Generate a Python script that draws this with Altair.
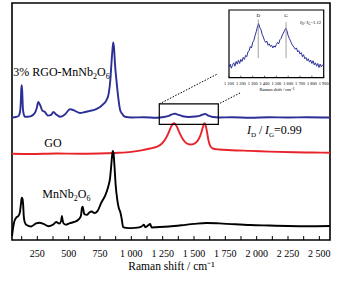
import altair as alt
import pandas as pd

# ---------------- data ----------------
# main plot: y in arbitrary units, 0 = bottom of frame, 100 = top of frame
blue_x = [48, 80, 100, 112, 118, 122, 126, 130, 135, 142, 150, 170, 200, 230, 245, 258, 272, 290, 311, 335, 360, 378,
          400, 431, 470, 511, 550, 590, 630, 670, 710, 750, 780, 803, 820, 832, 842, 850, 856, 862, 870, 883, 897, 910,
          930, 950, 1000, 1100, 1200, 1260, 1300, 1335, 1350, 1370, 1410, 1460, 1510, 1550, 1575, 1590, 1610, 1650,
          1700, 1800, 1950, 2100, 2250, 2400, 2585]
blue_y = [51.7, 51.9, 52.3, 54.0, 58.0, 63.5, 65.3, 62.0, 55.5, 53.0, 52.0, 52.0, 52.3, 53.6, 55.6, 58.2, 57.0, 54.6,
          54.0, 52.5, 52.8, 54.0, 53.0, 52.0, 53.0, 55.2, 54.5, 53.6, 54.0, 54.5, 55.0, 56.1, 57.5, 59.1, 62.0, 67.2,
          75.0, 80.5, 83.4, 81.0, 74.0, 66.5, 59.5, 55.0, 53.0, 52.0, 51.7, 51.8, 51.6, 51.9, 52.4, 53.2, 53.3, 52.9,
          52.2, 51.9, 52.1, 52.5, 53.0, 53.2, 52.6, 51.9, 51.7, 51.8, 51.6, 51.8, 51.7, 51.8, 51.7]

red_x = [48, 200, 400, 600, 800, 900, 1000, 1080, 1150, 1200, 1240, 1270, 1295, 1315, 1328, 1338, 1350, 1365, 1385,
         1410, 1440, 1470, 1500, 1525, 1545, 1560, 1572, 1582, 1592, 1603, 1615, 1630, 1650, 1700, 1800, 1950, 2100,
         2300, 2450, 2585]
red_y = [36.4, 36.3, 36.5, 36.4, 36.6, 36.8, 37.2, 37.8, 38.6, 39.3, 40.5, 42.4, 45.0, 47.5, 48.8, 49.3, 49.0, 47.6,
         45.2, 42.6, 40.8, 40.3, 40.6, 41.6, 43.4, 45.6, 47.8, 49.3, 48.6, 45.8, 42.2, 39.6, 38.6, 38.2, 37.9, 37.6,
         37.3, 37.0, 36.9, 36.8]

black_x = [48, 55, 65, 80, 100, 112, 120, 126, 132, 137, 142, 150, 165, 200, 240, 270, 300, 340, 380, 400, 425, 440,
           446, 451, 458, 475, 510, 545, 580, 598, 606, 612, 618, 625, 645, 665, 684, 705, 730, 760, 790, 815, 830,
           840, 847, 852, 858, 865, 875, 888, 900, 912, 922, 935, 960, 1000, 1050, 1085, 1100, 1112, 1135, 1150, 1162,
           1200, 1300, 1400, 1500, 1600, 1700, 1800, 1950, 2100, 2250, 2400, 2585]
black_y = [1.6, 4.5, 7.5, 9.3, 10.2, 12.0, 15.5, 17.8, 17.3, 14.8, 10.0, 7.5, 6.3, 5.7, 7.0, 7.3, 6.8, 5.8, 6.6, 7.6,
           6.9, 8.0, 10.1, 8.6, 7.2, 6.5, 7.1, 7.6, 8.7, 10.2, 13.5, 14.1, 12.6, 10.9, 10.6, 11.6, 12.0, 11.4, 12.2, 15.7,
           18.6, 22.4, 26.0, 31.5, 35.8, 37.6, 36.6, 31.7, 23.2, 16.9, 13.5, 11.8, 9.3, 5.4, 5.1, 5.0, 5.2, 5.8, 6.5,
           5.4, 6.2, 6.8, 5.3, 5.4, 5.7, 6.2, 6.8, 7.2, 7.0, 6.7, 6.3, 6.1, 5.9, 5.8, 5.9]

# inset (1 100 - 1 900 cm-1), y in arbitrary units 0-100 of the inset frame
inset_x = list(range(1100, 1910, 10))
inset_y = [16, 20, 14, 19, 22, 17, 24, 20, 26, 21, 27, 24, 30, 27, 33, 31, 38, 40, 46, 44, 52, 55, 62, 68, 75, 80,
           74, 71, 64, 60, 55, 52, 54, 48, 50, 46, 48, 44, 47, 45, 49, 52, 50, 56, 58, 63, 66, 70, 73, 69, 62, 58,
           54, 50, 47, 45, 42, 44, 38, 40, 35, 37, 31, 34, 28, 30, 25, 28, 23, 26, 21, 25, 19, 22, 17, 21, 15, 20,
           16, 19, 17]

major_ticks = [250, 500, 750, 1000, 1250, 1500, 1750, 2000, 2250, 2500]
minor_ticks = [125, 375, 625, 875, 1125, 1375, 1625, 1875, 2125, 2375]
inset_ticks = [1100, 1200, 1300, 1400, 1500, 1600, 1700, 1800, 1900]
peak_pos = [1347, 1582]
peak_lab = ["D", "G"]

# ---------------- chart ----------------
FONT = "Liberation Serif"
W, H = 318, 237
XDOM = [48, 2585]
LBL = "replace(format(datum.x, ','), ',', ' ')"

xs = alt.Scale(domain=XDOM, nice=False, zero=False)
ys = alt.Scale(domain=[0, 100], nice=False, zero=False)


def X(sc):
    return alt.X("x:Q", scale=sc)


def Y(sc):
    return alt.Y("y:Q", scale=sc)


spec = pd.concat([
    pd.DataFrame({"x": blue_x, "y": blue_y, "s": "rgo"}),
    pd.DataFrame({"x": red_x, "y": red_y, "s": "go"}),
    pd.DataFrame({"x": black_x, "y": black_y, "s": "mnb"}),
])

lines = alt.Chart(spec).mark_line(strokeWidth=1.9, interpolate="monotone").encode(
    x=alt.X("x:Q", scale=xs, title="Raman shift / cm⁻¹",
            axis=alt.Axis(labels=False, ticks=False, domain=False, grid=False,
                          titleFont=FONT, titleFontSize=11.5, titleFontWeight="normal", titleColor="black",
                          titlePadding=20)),
    y=alt.Y("y:Q", scale=ys, axis=None),
    color=alt.Color("s:N", scale=alt.Scale(domain=["rgo", "go", "mnb"], range=["#2b2f96", "#e8242b", "#000000"]),
                    legend=None),
)

ticks = alt.Chart(pd.DataFrame({"x": major_ticks + minor_ticks})).mark_rule(color="black", strokeWidth=1).encode(
    x=X(xs), y=alt.value(H), y2=alt.value(H - 4))

tick_labels = alt.Chart(pd.DataFrame({"x": major_ticks})).transform_calculate(t=LBL).mark_text(
    font=FONT, fontSize=10, align="center", baseline="alphabetic", color="black").encode(
    x=X(xs), y=alt.value(H + 16.5), text="t:N")

box = alt.Chart(pd.DataFrame({"x": [1223], "x2": [1694], "y": [48.8], "y2": [57.4]})).mark_rect(
    fill="white", fillOpacity=0, stroke="black", strokeWidth=1.2).encode(
    x=X(xs), x2="x2:Q", y=Y(ys), y2="y2:Q")
lead = alt.Chart(pd.DataFrame({"x": [1223, 1708], "x2": [1681, 1873], "y": [57.4, 57.7], "y2": [69.9, 62.2]})).mark_rule(
    color="black", strokeWidth=1, strokeDash=[1.5, 1.5]).encode(
    x=X(xs), x2="x2:Q", y=Y(ys), y2="y2:Q")


def piece(t, x, y, dx, size, xsc, ysc, style="normal", dy=0):
    return alt.Chart(pd.DataFrame({"x": [x], "y": [y], "t": [t]})).mark_text(
        font=FONT, fontSize=size, fontStyle=style, align="left", baseline="alphabetic", dx=dx, dy=dy,
        color="black").encode(x=X(xsc), y=Y(ysc), text="t:N")


# sample labels with real subscripts
lab = [piece("3% RGO-MnNb", 58, 69.2, 0, 12, xs, ys),
       piece("2", 58, 69.2, 79.8, 8, xs, ys, dy=3),
       piece("O", 58, 69.2, 83.8, 12, xs, ys),
       piece("6", 58, 69.2, 92.6, 8, xs, ys, dy=3),
       piece("GO", 306, 39.4, 0, 12, xs, ys),
       piece("MnNb", 290, 17.6, 0, 12, xs, ys),
       piece("2", 290, 17.6, 31.4, 8, xs, ys, dy=3),
       piece("O", 290, 17.6, 35.4, 12, xs, ys),
       piece("6", 290, 17.6, 44.2, 8, xs, ys, dy=3)]

rm = [piece("I", 1923, 44.6, 0, 12, xs, ys, "italic"),
      piece("D", 1923, 44.6, 4, 7, xs, ys, dy=3),
      piece("/", 1923, 44.6, 12, 12, xs, ys),
      piece("I", 1923, 44.6, 18, 12, xs, ys, "italic"),
      piece("G", 1923, 44.6, 22, 7, xs, ys, dy=3),
      piece("=0.99", 1923, 44.6, 27, 12, xs, ys)]

main = alt.layer(lines, ticks, tick_labels, box, lead, *lab, *rm)

# ---------------- inset ----------------
IX0, IX1 = 217, 311.7      # pixel range inside plot area
IY0, IY1 = 74.7, 7         # bottom, top
ixs = alt.Scale(domain=[1100, 1900], range=[IX0, IX1], nice=False, zero=False)
iys = alt.Scale(domain=[0, 100], range=[IY0, IY1], nice=False, zero=False)

iframe = alt.Chart(pd.DataFrame({"x": [1100], "x2": [1900], "y": [0], "y2": [100]})).mark_rect(
    fill="white", stroke="black", strokeWidth=1.2).encode(
    x=alt.X("x:Q", scale=ixs, title="Raman shift / cm⁻¹",
            axis=alt.Axis(orient="bottom", offset=IY0 - H, labels=False, ticks=False, domain=False, grid=False,
                          titleFont=FONT, titleFontSize=4.6, titleFontWeight="normal", titleColor="black",
                          titlePadding=8.5)),
    x2="x2:Q", y=alt.Y("y:Q", scale=iys, axis=None), y2="y2:Q")

iline = alt.Chart(pd.DataFrame({"x": inset_x, "y": inset_y})).mark_line(
    color="#2b2f96", strokeWidth=1).encode(x=X(ixs), y=Y(iys))

ipk = alt.Chart(pd.DataFrame({"x": peak_pos, "y": [29, 29], "y2": [86, 82]})).mark_rule(
    color="#888888", strokeWidth=0.8).encode(x=X(ixs), y=Y(iys), y2="y2:Q")
ipl = alt.Chart(pd.DataFrame({"x": peak_pos, "y": [90, 90], "t": peak_lab})).mark_text(
    font=FONT, fontSize=5, align="center", baseline="alphabetic", color="black").encode(
    x=X(ixs), y=Y(iys), text="t:N")
itk = alt.Chart(pd.DataFrame({"x": inset_ticks})).mark_rule(color="black", strokeWidth=0.6).encode(
    x=X(ixs), y=alt.value(IY0), y2=alt.value(IY0 - 2))
itl = alt.Chart(pd.DataFrame({"x": inset_ticks})).transform_calculate(t=LBL).mark_text(
    font=FONT, fontSize=4.4, align="center", baseline="alphabetic", color="black").encode(
    x=X(ixs), y=alt.value(IY0 + 7.5), text="t:N")

ri = [piece("I", 1700, 80, 0, 4.6, ixs, iys, "italic"),
      piece("D", 1700, 80, 1.7, 3, ixs, iys, dy=1),
      piece("/", 1700, 80, 4.3, 4.6, ixs, iys),
      piece("I", 1700, 80, 6.5, 4.6, ixs, iys, "italic"),
      piece("G", 1700, 80, 8.2, 3, ixs, iys, dy=1),
      piece("=1.12", 1700, 80, 10.5, 4.6, ixs, iys)]

inset = alt.layer(iframe, iline, ipk, ipl, itk, itl, *ri)

chart = alt.layer(main, inset).resolve_scale(x="independent", y="independent").properties(
    width=W, height=H,
    autosize=alt.AutoSizeParams(type="none"),
    padding={"left": 12, "top": 3, "right": 10, "bottom": 41},
    background="white",
).configure_view(stroke="black", strokeWidth=1.6).configure_axis(
    labels=False, ticks=False, domain=False, grid=False)

chart.save("out.html", embed_options={"renderer": "svg", "actions": False})
